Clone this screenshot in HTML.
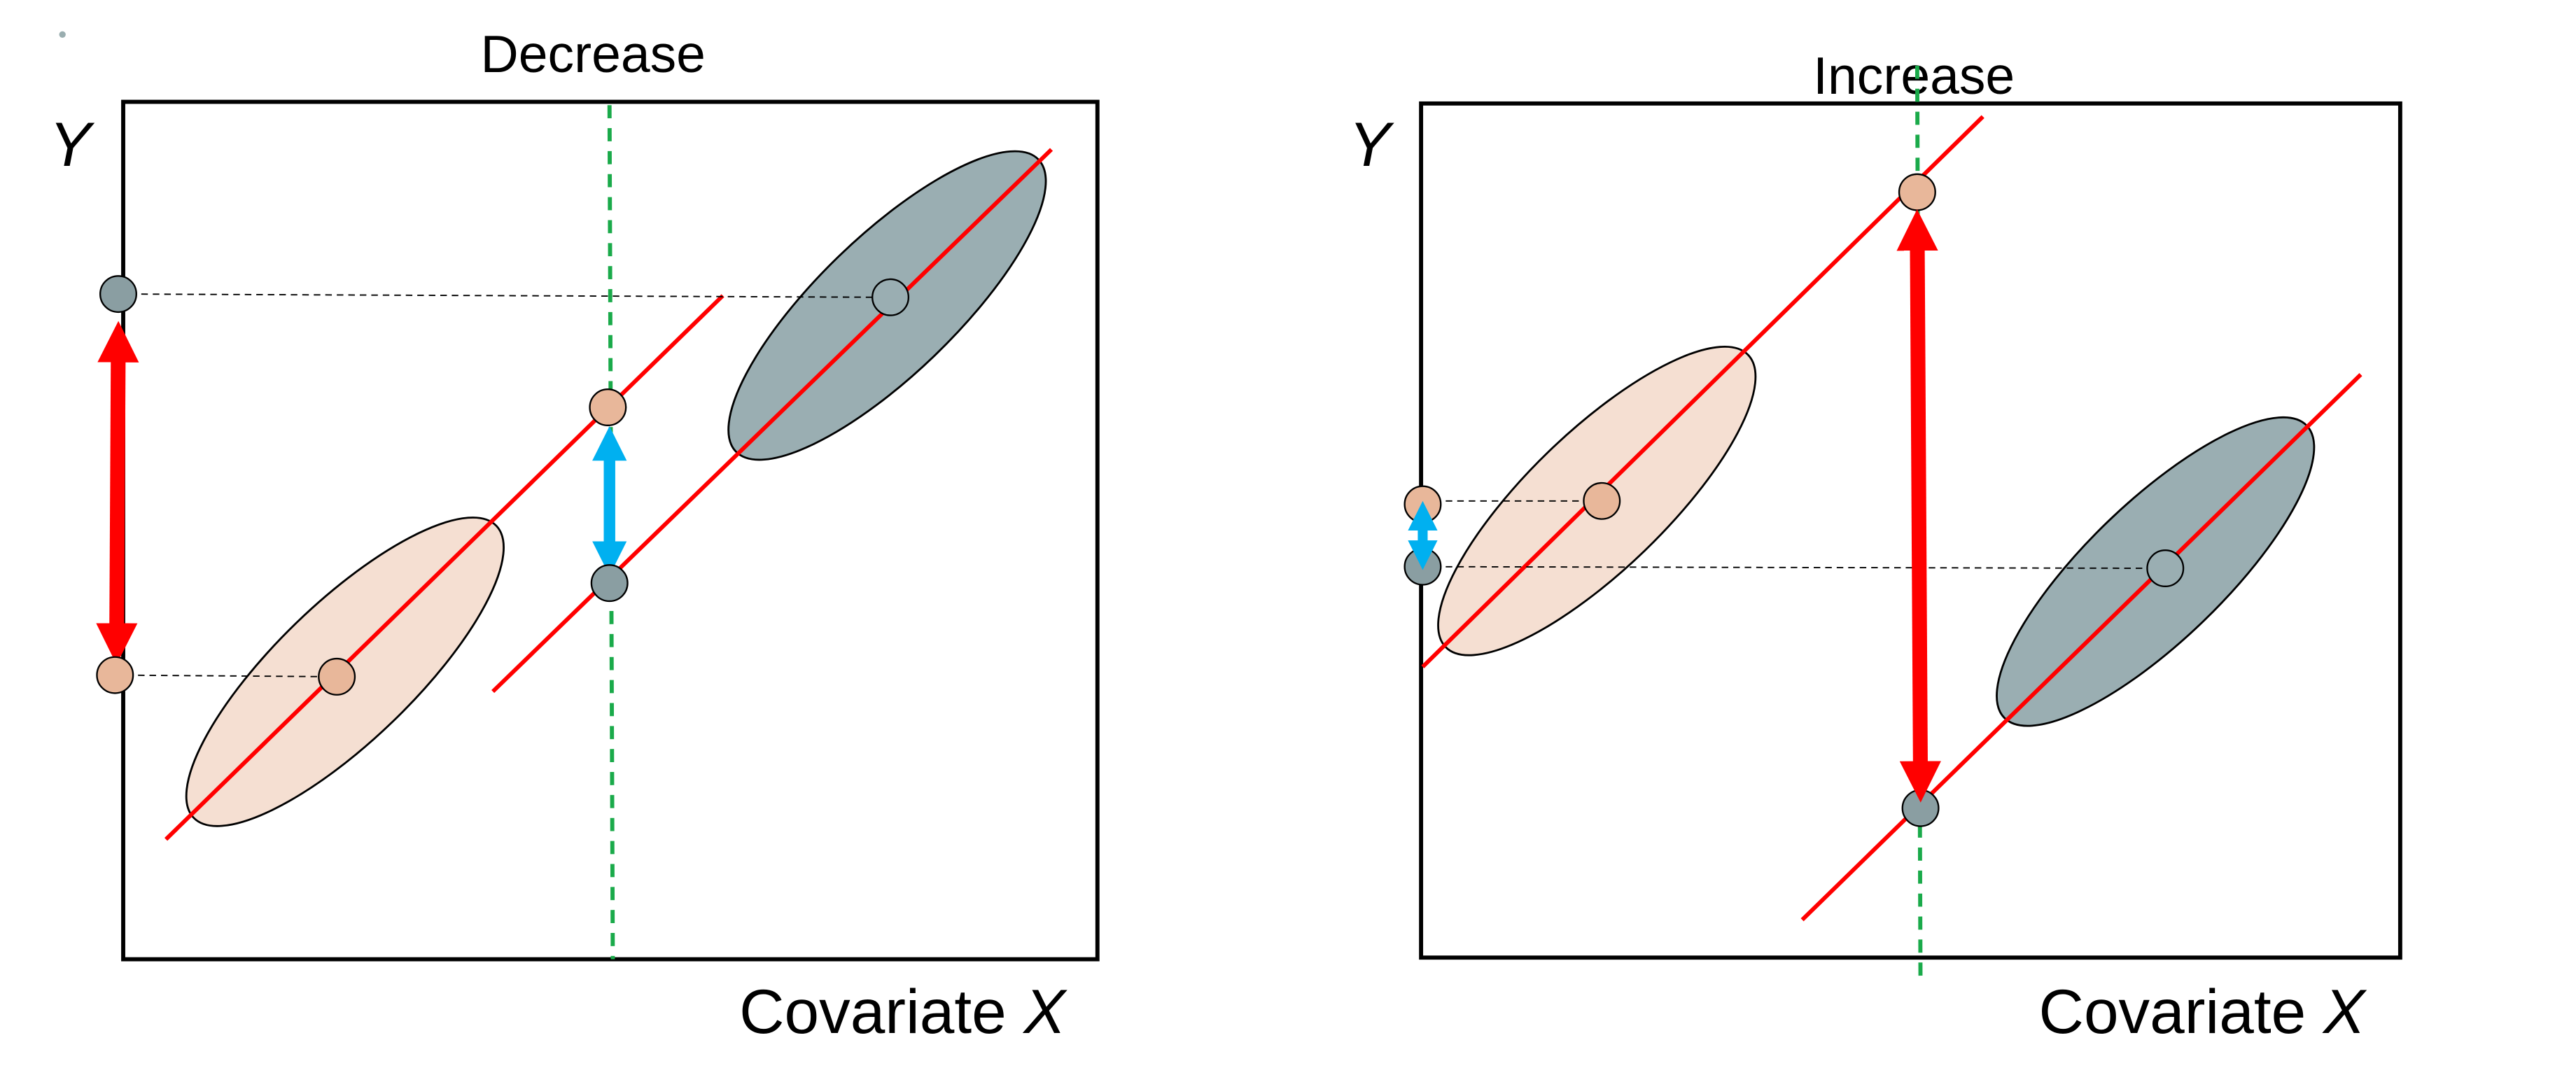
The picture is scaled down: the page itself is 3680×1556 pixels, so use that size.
<!DOCTYPE html>
<html><head><meta charset="utf-8"><style>
html,body{margin:0;padding:0;background:#fff;}
svg{display:block;}
text{font-family:"Liberation Sans",Arial,sans-serif;}
</style></head><body>
<svg width="3680" height="1556" viewBox="0 0 1568 663" preserveAspectRatio="none">
<defs>
<marker id="rh" viewBox="0 0 10 10" refX="5" refY="5" markerWidth="2.8" markerHeight="2.8" orient="auto-start-reverse"><path d="M0,0L10,5L0,10z" fill="#ff0000"/></marker>
<marker id="bh" viewBox="0 0 10 10" refX="5" refY="5" markerWidth="3" markerHeight="3" orient="auto-start-reverse"><path d="M0,0L10,5L0,10z" fill="#00b0f0"/></marker>
</defs>
<circle cx="38" cy="21" r="2" fill="#9aaeb0"/>
<g>
<rect x="75" y="62" width="593" height="522" fill="none" stroke="#000" stroke-width="2.5"/>
<text x="361" y="44" font-size="32" text-anchor="middle">Decrease</text>
<text x="30" y="101" font-size="38" font-style="italic">Y</text>
<text x="450" y="629" font-size="38">Covariate <tspan font-style="italic">X</tspan></text>
<ellipse cx="210" cy="409" rx="128" ry="42" transform="rotate(-44 210 409)" fill="#f5dfd2" stroke="#000" stroke-width="1.2"/>
<ellipse cx="540" cy="186" rx="128" ry="42" transform="rotate(-44 540 186)" fill="#9aaeb2" stroke="#000" stroke-width="1.2"/>
<line x1="371" y1="64" x2="373" y2="584" stroke="#1aaa4a" stroke-width="2.5" stroke-dasharray="8,6"/>
<line x1="101" y1="511" x2="440" y2="180" stroke="#ff0000" stroke-width="2.5"/>
<line x1="300" y1="421" x2="640" y2="91" stroke="#ff0000" stroke-width="2.5"/>
<line x1="72" y1="179" x2="542" y2="181" stroke="#000" stroke-width="0.8" stroke-dasharray="4,3"/>
<line x1="70" y1="411" x2="205" y2="412" stroke="#000" stroke-width="0.8" stroke-dasharray="4,3"/>
<line x1="72" y1="208" x2="71" y2="392" stroke="#ff0000" stroke-width="9" marker-start="url(#rh)" marker-end="url(#rh)"/>
<line x1="371" y1="270" x2="371" y2="340" stroke="#00b0f0" stroke-width="7" marker-start="url(#bh)" marker-end="url(#bh)"/>
<circle cx="72" cy="179" r="11" fill="#8a9ea2" stroke="#000"/>
<circle cx="542" cy="181" r="11" fill="#9aaeb2" stroke="#000"/>
<circle cx="70" cy="411" r="11" fill="#e8b79a" stroke="#000"/>
<circle cx="205" cy="412" r="11" fill="#e8b79a" stroke="#000"/>
<circle cx="370" cy="248" r="11" fill="#e8b79a" stroke="#000"/>
<circle cx="371" cy="355" r="11" fill="#8a9ea2" stroke="#000"/>
</g>
<g>
<rect x="865" y="63" width="596" height="520" fill="none" stroke="#000" stroke-width="2.5"/>
<text x="1165" y="57" font-size="32" text-anchor="middle">Increase</text>
<text x="821" y="101" font-size="38" font-style="italic">Y</text>
<text x="1241" y="629" font-size="38">Covariate <tspan font-style="italic">X</tspan></text>
<ellipse cx="972" cy="305" rx="128" ry="42" transform="rotate(-44 972 305)" fill="#f5dfd2" stroke="#000" stroke-width="1.2"/>
<ellipse cx="1312" cy="348" rx="128" ry="42" transform="rotate(-44 1312 348)" fill="#9aaeb2" stroke="#000" stroke-width="1.2"/>
<line x1="1167" y1="40" x2="1169" y2="600" stroke="#1aaa4a" stroke-width="2.5" stroke-dasharray="8,6"/>
<line x1="866" y1="406" x2="1207" y2="71" stroke="#ff0000" stroke-width="2.5"/>
<line x1="1097" y1="560" x2="1437" y2="228" stroke="#ff0000" stroke-width="2.5"/>
<line x1="866" y1="305" x2="975" y2="305" stroke="#000" stroke-width="0.8" stroke-dasharray="4,3"/>
<line x1="866" y1="345" x2="1318" y2="346" stroke="#000" stroke-width="0.8" stroke-dasharray="4,3"/>
<circle cx="866" cy="307" r="11" fill="#e8b79a" stroke="#000"/>
<circle cx="975" cy="305" r="11" fill="#e8b79a" stroke="#000"/>
<circle cx="866" cy="345" r="11" fill="#8a9ea2" stroke="#000"/>
<circle cx="1318" cy="346" r="11" fill="#9aaeb2" stroke="#000"/>
<line x1="866" y1="314" x2="866" y2="338" stroke="#00b0f0" stroke-width="6" marker-start="url(#bh)" marker-end="url(#bh)"/>
<circle cx="1167" cy="117" r="11" fill="#e8b79a" stroke="#000"/>
<circle cx="1169" cy="492" r="11" fill="#8a9ea2" stroke="#000"/>
<line x1="1167" y1="140" x2="1169" y2="476" stroke="#ff0000" stroke-width="9" marker-start="url(#rh)" marker-end="url(#rh)"/>
</g>
</svg>
</body></html>
